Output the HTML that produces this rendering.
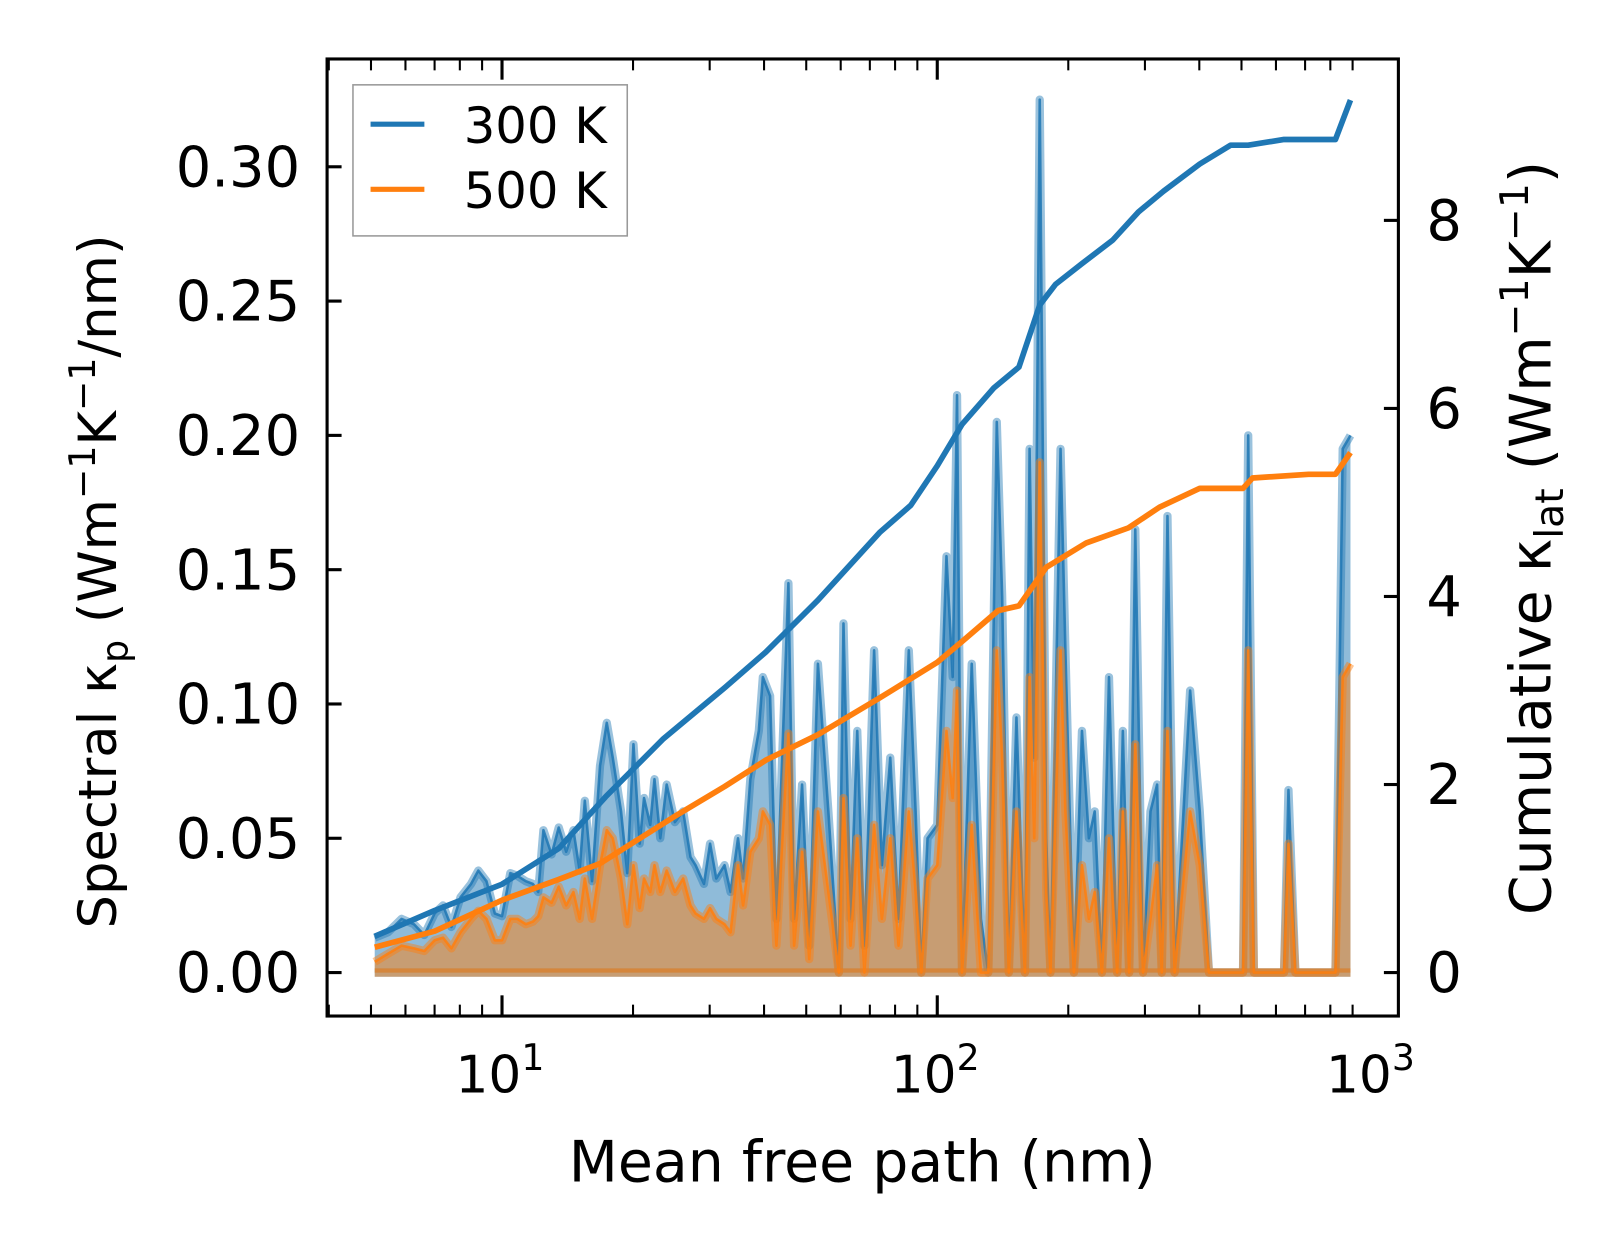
<!DOCTYPE html>
<html><head><meta charset="utf-8"><style>
html,body{margin:0;padding:0;background:#fff;}
svg{display:block;font-family:"DejaVu Sans","Liberation Sans",sans-serif;}
</style></head><body>
<svg id="chart" width="1623" height="1254" viewBox="0 0 1568 1212" preserveAspectRatio="none" xmlns="http://www.w3.org/2000/svg">
<rect width="1568" height="1212" fill="#fff"/>
<g id="plot"></g>
<rect x="316" y="57" width="1035" height="925" fill="none" stroke="#000" stroke-width="3"/>
<g id="ticks"></g>
<text x="833" y="1142" font-size="55" text-anchor="middle">Mean free path (nm)</text>
<text transform="translate(112,562) rotate(-90)" font-size="51" text-anchor="middle">Spectral κ<tspan font-size="35" dy="11">p</tspan><tspan dy="-11"> (Wm</tspan><tspan font-size="35" dy="-20">−1</tspan><tspan dy="20">K</tspan><tspan font-size="35" dy="-20">−1</tspan><tspan dy="20">/nm)</tspan></text>
<text transform="translate(1498,520) rotate(-90)" font-size="55" text-anchor="middle">Cumulative κ<tspan font-size="38" dy="12">lat</tspan><tspan dy="-12"> (Wm</tspan><tspan font-size="38" dy="-22">−1</tspan><tspan dy="22">K</tspan><tspan font-size="38" dy="-22">−1</tspan><tspan dy="22">)</tspan></text>
<g>
<rect x="341" y="82" width="265" height="146" fill="#fff" fill-opacity="0.8" stroke="#999" stroke-width="1.5"/>
<line x1="358" y1="120" x2="410" y2="120" stroke="#1f77b4" stroke-width="5"/>
<text x="448" y="138" font-size="48">300 K</text>
<line x1="358" y1="183" x2="410" y2="183" stroke="#ff7f0e" stroke-width="5"/>
<text x="448" y="201" font-size="48">500 K</text>
</g>
</svg>
<script>
const mfp = [5.1,5.47,5.88,6.28,6.63,7.0,7.32,7.65,8.03,8.49,8.82,9.21,9.63,10,10.45,10.85,11.34,11.78,12.11,12.45,13.0,13.5,14.04,14.59,15.08,15.5,16.1,16.8,17.4,17.97,18.77,19.4,20.05,20.72,21.2,21.9,22.4,23.1,23.9,24.95,26.07,27.1,27.85,29.1,30.06,31.06,32.45,33.5,34.85,35.8,37.2,38.9,39.75,41.3,42.7,45.5,46.9,48.9,50.8,53.2,56.2,59.4,60.9,63.2,65.5,68,71.6,74.6,78,81.5,86,89.2,91.9,95,100,105,108.5,111,114,120,126,131,137,141,146,152,159,163,167,172,178,182,192,197,206,215,223,230,239,248,259,267,276,285,297,309,320,328,338,351,381,401,421,504,518,534,626,641,665,822,854,890];
const spec300 = [0.013,0.015,0.02,0.018,0.014,0.022,0.025,0.017,0.028,0.033,0.038,0.034,0.022,0.021,0.037,0.036,0.034,0.033,0.03,0.053,0.044,0.054,0.045,0.053,0.038,0.064,0.034,0.077,0.093,0.08,0.06,0.037,0.085,0.048,0.065,0.055,0.072,0.05,0.07,0.056,0.06,0.043,0.04,0.033,0.048,0.035,0.04,0.03,0.05,0.035,0.072,0.09,0.11,0.103,0.02,0.145,0.02,0.07,0.01,0.115,0.06,0.0,0.13,0.02,0.09,0.01,0.12,0.04,0.08,0.02,0.12,0.06,0.0,0.05,0.055,0.155,0.11,0.215,0.0,0.115,0.02,0.0,0.205,0.14,0.0,0.095,0.0,0.195,0.08,0.325,0.05,0.0,0.195,0.12,0.0,0.09,0.05,0.06,0.0,0.11,0.0,0.09,0.0,0.165,0.0,0.06,0.07,0.0,0.17,0.0,0.105,0.06,0.0,0.0,0.2,0.0,0.0,0.068,0.0,0.0,0.195,0.2];
const spec500 = [0.004,0.007,0.01,0.009,0.008,0.012,0.013,0.009,0.015,0.02,0.023,0.02,0.012,0.012,0.02,0.02,0.018,0.019,0.021,0.028,0.026,0.032,0.025,0.03,0.02,0.035,0.02,0.04,0.053,0.05,0.035,0.018,0.04,0.024,0.035,0.03,0.04,0.03,0.038,0.03,0.035,0.025,0.022,0.02,0.024,0.02,0.018,0.015,0.04,0.025,0.045,0.05,0.06,0.055,0.01,0.089,0.01,0.045,0.005,0.06,0.03,0.0,0.065,0.01,0.05,0.0,0.055,0.02,0.05,0.01,0.06,0.03,0.0,0.035,0.04,0.09,0.065,0.105,0.0,0.055,0.0,0.0,0.12,0.08,0.0,0.06,0.0,0.11,0.05,0.19,0.03,0.0,0.12,0.06,0.0,0.04,0.02,0.03,0.0,0.05,0.0,0.06,0.0,0.085,0.0,0.02,0.04,0.0,0.09,0.0,0.06,0.04,0.0,0.0,0.12,0.0,0.0,0.048,0.0,0.0,0.11,0.115];
const cumMfp300 = [5.1,7.0,10,13.5,17.3,23.4,32.5,40.4,53.2,73.7,86.9,100,114,135,154,172,187,215,253,290,331,401,472,518,626,822,890];
const cum300 = [0.385,0.66,0.94,1.32,1.87,2.48,3.03,3.41,3.96,4.68,4.97,5.39,5.83,6.22,6.44,7.1,7.32,7.54,7.79,8.09,8.31,8.6,8.8,8.8,8.86,8.86,9.28];
const cumMfp500 = [5.1,7.0,10,13.5,16.8,24.7,32.5,40.4,53.2,73.7,100,114,138,154,178,220,275,324,401,504,530,713,822,890];
const cum500 = [0.27,0.44,0.77,0.99,1.16,1.65,1.98,2.26,2.53,2.92,3.3,3.52,3.85,3.9,4.31,4.57,4.73,4.95,5.15,5.15,5.26,5.3,5.3,5.53];
const yLeftTicks = [0,0.05,0.1,0.15,0.2,0.25,0.3];
const yLeftLabels = ["0.00","0.05","0.10","0.15","0.20","0.25","0.30"];
const yRightTicks = [0,2,4,6,8];
const xMajor = [1,2,3];

const NS="http://www.w3.org/2000/svg";
const X = m => 485 + (Math.log10(m)-1)*420.5;
const YL = v => 940 - v*2596;
const YR = k => 940 - k*90.875;
const plot=document.getElementById('plot'), ticks=document.getElementById('ticks');
function mk(tag, attrs, parent){const e=document.createElementNS(NS,tag);for(const k in attrs)e.setAttribute(k,attrs[k]);parent.appendChild(e);return e;}
function linePts(xs,ys,fy){return xs.map((m,i)=>X(m).toFixed(1)+','+fy(ys[i]).toFixed(1)).join(' ');}
function area(xs,ys,color,name){
  const pts=linePts(xs,ys,YL);
  const a=mk('polygon',{points:X(xs[0])+','+YL(0)+' '+pts+' '+X(xs[xs.length-1])+','+YL(0),fill:color,'fill-opacity':0.5},plot);
  
  
  const h=mk('polyline',{points:pts,fill:'none',stroke:color,'stroke-opacity':0.45,'stroke-width':8,'stroke-linejoin':'round'},plot);
  
  
  const l=mk('polyline',{points:pts,fill:'none',stroke:color,'stroke-opacity':0.85,'stroke-width':2.5,'stroke-linejoin':'round'},plot);
  
  
  const b=mk('line',{x1:X(xs[0]),y1:YL(0),x2:X(xs[xs.length-1]),y2:YL(0),stroke:color,'stroke-opacity':0.5,'stroke-width':8},plot);
  
  
}
area(mfp,spec300,'#1f77b4','spectral-300k');
area(mfp,spec500,'#ff7f0e','spectral-500k');
const c1=mk('polyline',{points:linePts(cumMfp300,cum300,YR),fill:'none',stroke:'#1f77b4','stroke-width':5.5,'stroke-linejoin':'round'},plot);


const c2=mk('polyline',{points:linePts(cumMfp500,cum500,YR),fill:'none',stroke:'#ff7f0e','stroke-width':5.5,'stroke-linejoin':'round'},plot);



yLeftTicks.forEach((v,i)=>{
  const y=YL(v);
  const t=mk('line',{x1:316,y1:y,x2:330,y2:y,stroke:'#000','stroke-width':3},ticks);
  
  
  const tx=mk('text',{x:290,y:y+19,'font-size':54,'text-anchor':'end'},ticks);
  tx.textContent=yLeftLabels[i];
  
  
});
yRightTicks.forEach(k=>{
  const y=YR(k);
  const t=mk('line',{x1:1337,y1:y,x2:1351,y2:y,stroke:'#000','stroke-width':3},ticks);
  
  
  const tx=mk('text',{x:1378,y:y+19,'font-size':54},ticks);
  tx.textContent=String(k);
  
  
});
for(let d=0; d<=2; d++){
  for(let j=1;j<=9;j++){
    const m=j*Math.pow(10,d);
    const x=X(m);
    if(x<316||x>1351) continue;
    const len = j===1?20:11;
    const t1=mk('line',{x1:x,y1:982,x2:x,y2:982-len,stroke:'#000','stroke-width':j===1?3:2},ticks);
    
    
    const t2=mk('line',{x1:x,y1:57,x2:x,y2:57+len,stroke:'#000','stroke-width':j===1?3:2},ticks);
    
    
  }
}
xMajor.forEach(p=>{
  const x=X(Math.pow(10,p));
  const tx=mk('text',{x:x-2,y:1056,'font-size':50,'text-anchor':'middle'},ticks);
  
  
  tx.textContent='10';
  const sp=mk('tspan',{'font-size':35,dy:-22},tx);
  sp.textContent=String(p);
});
</script>
</body></html>
